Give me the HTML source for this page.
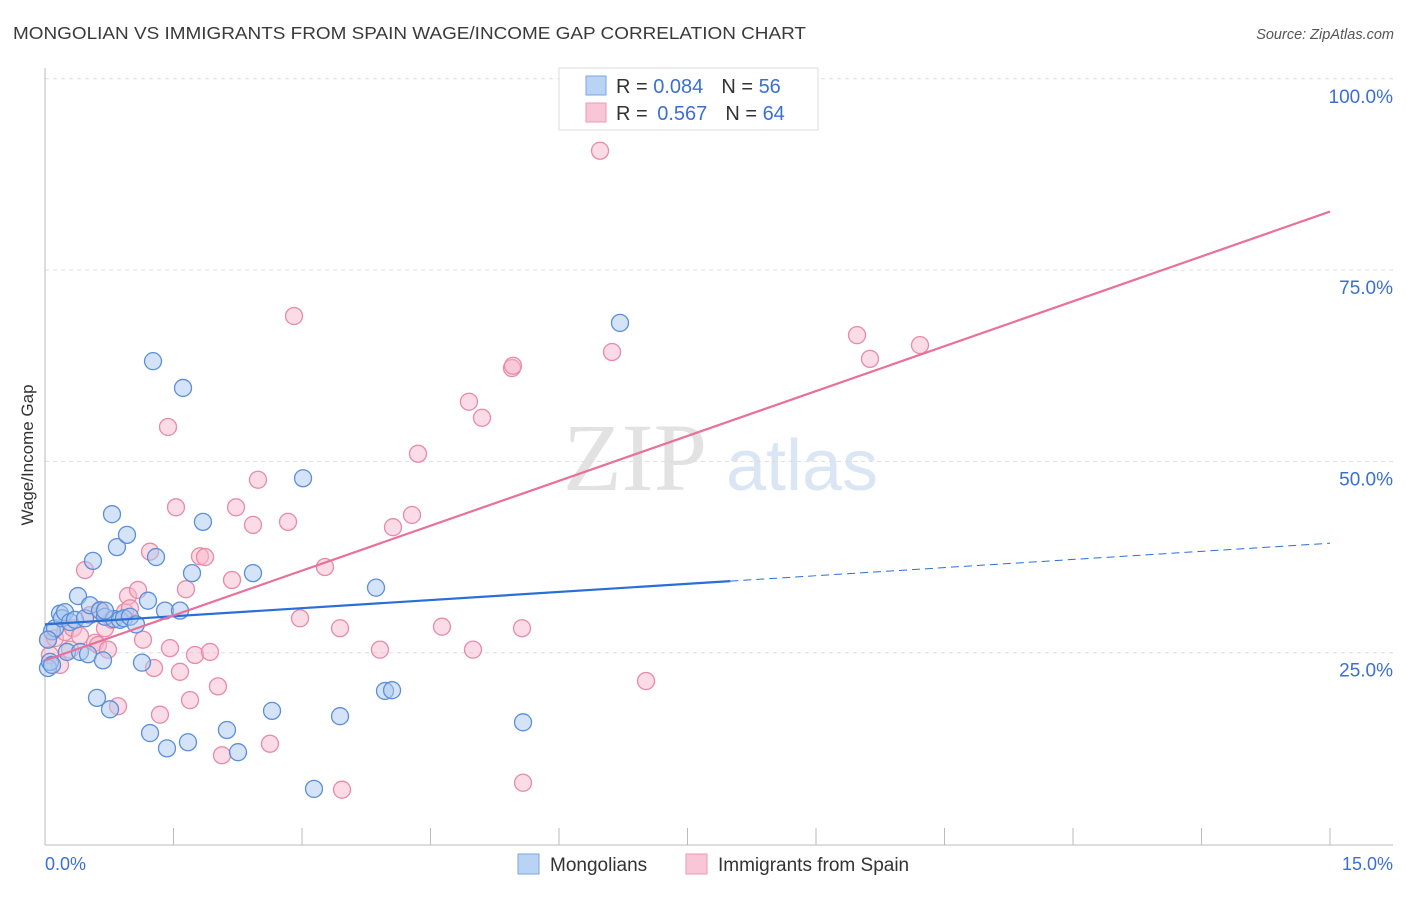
<!DOCTYPE html>
<html><head><meta charset="utf-8"><style>
body{margin:0;background:#fff;font-family:"Liberation Sans",sans-serif}
svg text{font-family:"Liberation Sans",sans-serif}
</style></head><body>
<svg id="c" width="1406" height="892">
<text x="13" y="39" font-size="17.5" fill="#3a3a3a" textLength="793" lengthAdjust="spacingAndGlyphs">MONGOLIAN VS IMMIGRANTS FROM SPAIN WAGE/INCOME GAP CORRELATION CHART</text>
<text x="1394" y="39" font-size="14.5" fill="#555" font-style="italic" text-anchor="end">Source: ZipAtlas.com</text>
<text x="635" y="490" font-size="96" fill="#e2e2e2" text-anchor="middle" style="font-family:'Liberation Serif',serif">ZIP</text>
<text x="802" y="490" font-size="72" fill="#dbe6f5" text-anchor="middle">atlas</text>
<g id="grid"></g><g id="axes"></g><g id="marks"></g>
<text x="33" y="455" font-size="17" fill="#333" text-anchor="middle" transform="rotate(-90 33 455)">Wage/Income Gap</text>
<text x="45" y="870" font-size="18" fill="#3b6fd4">0.0%</text>
<text x="1393" y="870" font-size="18" fill="#3b6fd4" text-anchor="end">15.0%</text>
<g>
<rect x="559" y="68" width="259" height="62" fill="#fff" stroke="#ddd"/>
<rect x="586" y="76" width="20" height="19" fill="#b9d3f5" stroke="#7aa6e6"/>
<rect x="586" y="103" width="20" height="19" fill="#f8c6d6" stroke="#ec9ab6"/>
<text x="616" y="93" font-size="20" fill="#333">R = <tspan fill="#3b6fd4">0.084</tspan><tspan dx="18">N = </tspan><tspan fill="#3b6fd4">56</tspan></text>
<text x="616" y="120" font-size="20" fill="#333">R = <tspan fill="#3b6fd4" dx="4">0.567</tspan><tspan dx="18">N = </tspan><tspan fill="#3b6fd4">64</tspan></text>
</g>
<g>
<rect x="518" y="854" width="21" height="20" fill="#b9d3f5" stroke="#7aa6e6"/>
<text x="550" y="871" font-size="19" fill="#333">Mongolians</text>
<rect x="686" y="854" width="21" height="20" fill="#f8c6d6" stroke="#ec9ab6"/>
<text x="718" y="871" font-size="19" fill="#333">Immigrants from Spain</text>
</g>
</svg>
<script>
const yTicks=[25,50,75,100];
const yTickLabels=["25.0%","50.0%","75.0%","100.0%"];
const blueX=[0.035,0.058,0.082,0.117,0.175,0.198,0.233,0.257,0.292,0.350,0.385,0.409,0.467,0.502,0.525,0.560,0.607,0.642,0.677,0.700,0.759,0.782,0.805,0.840,0.875,0.922,0.957,0.992,1.062,1.132,1.202,1.226,1.261,1.296,1.401,1.424,1.576,1.611,1.669,1.716,1.844,2.124,2.253,2.428,2.650,3.012,3.140,3.444,3.864,3.969,4.051,5.580,6.712,0.035,0.082,0.700];
const blueY=[23.0,23.8,27.8,28.2,30.1,29.5,30.3,25.1,29.0,29.3,32.4,25.1,29.5,24.8,31.2,37.0,19.1,30.5,24.0,29.7,17.6,43.1,29.4,38.8,29.3,29.5,40.4,29.7,28.7,23.7,31.8,14.5,63.1,37.5,30.5,12.5,30.5,59.6,13.3,35.4,42.1,14.9,12.0,35.4,17.4,47.8,7.2,16.7,33.5,20.0,20.1,15.9,68.1,26.7,23.4,30.5];
const pinkX=[0.035,0.058,0.117,0.175,0.233,0.292,0.327,0.409,0.467,0.525,0.584,0.619,0.642,0.700,0.735,0.782,0.852,0.934,0.969,0.992,1.086,1.144,1.226,1.272,1.342,1.436,1.459,1.529,1.576,1.646,1.693,1.751,1.809,1.868,1.926,2.019,2.066,2.183,2.230,2.428,2.486,2.626,2.837,2.907,2.977,3.268,3.444,3.467,3.910,4.062,4.284,4.354,4.634,4.949,4.996,5.101,5.451,5.463,5.568,5.580,6.479,6.619,7.016,9.479,9.630,10.214];
const pinkY=[26.7,24.7,26.9,23.4,27.7,25.4,28.2,27.2,35.8,29.9,26.3,26.0,30.6,28.2,25.4,29.3,18.0,30.3,32.4,30.8,33.2,26.7,38.2,23.0,16.9,54.5,25.6,44.0,22.5,33.3,18.8,24.7,37.6,37.5,25.1,20.6,11.6,34.5,44.0,41.7,47.6,13.1,42.1,69.0,29.5,36.2,28.2,7.1,25.4,41.4,43.0,51.0,28.4,57.8,25.4,55.7,62.2,62.5,28.2,8.0,90.6,64.3,21.3,66.5,63.4,65.2];
const blueTrend=[28.7,0.707];
const pinkTrend=[24.0,3.91];
const blueSolidEnd=8.0;
const sx=v=>45+v/15*1285, sy=v=>844-v/25*191.3;
const NS="http://www.w3.org/2000/svg";
function mk(p,t,a){const e=document.createElementNS(NS,t);for(const k in a)e.setAttribute(k,a[k]);document.getElementById(p).appendChild(e);return e;}
yTicks.forEach((t,i)=>{
 const l=mk('grid','line',{x1:45,x2:1393,y1:sy(t),y2:sy(t),stroke:'#ddd','stroke-dasharray':'4,4'});
 
 
 const tx=mk('grid','text',{x:1393,y:sy(t)+24,'font-size':19,fill:'#3b6fd4','text-anchor':'end'});
 tx.textContent=yTickLabels[i];
 
 
});
let a=mk('axes','line',{x1:45,x2:45,y1:68,y2:845,stroke:'#bbb'});


a=mk('axes','line',{x1:45,x2:1393,y1:845,y2:845,stroke:'#bbb'});


for(let i=0;i<=10;i++){const t=mk('axes','line',{x1:sx(i*1.5),x2:sx(i*1.5),y1:828,y2:845,stroke:'#bbb'});
 
 }
function dots(X,Y,fill,stroke,name){X.forEach((x,i)=>{const c=mk('marks','circle',{cx:sx(x),cy:sy(Y[i]),r:8.5,fill:fill,'fill-opacity':0.5,stroke:stroke,'stroke-width':1.3});
 
 });}
dots(pinkX,pinkY,'#f7b8cc','#e88aa8','point-spain');
dots(blueX,blueY,'#a9c8f0','#5b8fd9','point-mongolian');
let l=mk('marks','line',{x1:sx(0),y1:sy(blueTrend[0]),x2:sx(blueSolidEnd),y2:sy(blueTrend[0]+blueTrend[1]*blueSolidEnd),stroke:'#2a6fd6','stroke-width':2.2});


l=mk('marks','line',{x1:sx(blueSolidEnd),y1:sy(blueTrend[0]+blueTrend[1]*blueSolidEnd),x2:sx(15),y2:sy(blueTrend[0]+blueTrend[1]*15),stroke:'#2a6fd6','stroke-width':1,'stroke-dasharray':'8,5'});


l=mk('marks','line',{x1:sx(0),y1:sy(pinkTrend[0]),x2:sx(15),y2:sy(pinkTrend[0]+pinkTrend[1]*15),stroke:'#e8709a','stroke-width':2.2});


</script>
</body></html>
